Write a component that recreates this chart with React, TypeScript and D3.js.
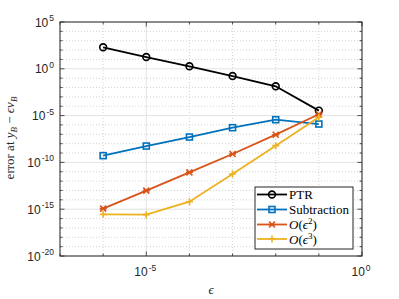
import React from "react";
import * as d3 from "d3";

// epsilon values (x) and errors (y)
const epsValues = [1e-6, 1e-5, 1e-4, 1e-3, 1e-2, 1e-1];
const ptrLog = [2.3, 1.26, 0.27, -0.77, -1.87, -4.47];
const subtractionLog = [-9.28, -8.25, -7.29, -6.29, -5.44, -5.9];
const order2Log = [-14.94, -13.02, -11.06, -9.1, -7.04, -4.86];
const order3Log = [-15.55, -15.58, -14.2, -11.24, -8.21, -5.18];

const xMajorExp = [-5, 0];
const yMajorExp = [-20, -15, -10, -5, 0, 5];
const xMinorExp = [-7, -6, -5, -4, -3, -2, -1, 0];
const yMinorExp = d3.range(-20, 6);

const series = [
  { name: "PTR", values: ptrLog, color: "#000000", marker: "circle" },
  { name: "Subtraction", values: subtractionLog, color: "#0072BD", marker: "square" },
  { name: "O2", values: order2Log, color: "#D95319", marker: "x" },
  { name: "O3", values: order3Log, color: "#EDB120", marker: "plus" },
];

const W = 399;
const H = 299;
const m = { left: 60, right: 37, top: 22, bottom: 43 };
const axisColor = "#262626";
const tickFont = "'Liberation Sans', Arial, Helvetica, sans-serif";
const texFont = "'Liberation Serif', 'Times New Roman', serif";

function Marker({ type, x, y, color }: { type: string; x: number; y: number; color: string }) {
  if (type === "circle")
    return <circle cx={x} cy={y} r={3.4} fill="none" stroke={color} strokeWidth={1.6} />;
  if (type === "square")
    return <rect x={x - 3} y={y - 3} width={6} height={6} fill="none" stroke={color} strokeWidth={1.6} />;
  if (type === "x")
    return (
      <path d={`M${x - 3},${y - 3}L${x + 3},${y + 3}M${x - 3},${y + 3}L${x + 3},${y - 3}M${x - 3.5},${y}L${x + 3.5},${y}`}
        stroke={color} strokeWidth={1.6} />
    );
  return <path d={`M${x - 3.5},${y}L${x + 3.5},${y}M${x},${y - 3.5}L${x},${y + 3.5}`} stroke={color} strokeWidth={1.6} />;
}

export default function App() {
  const x = d3.scaleLog().domain([1e-7, 1]).range([m.left, W - m.right]);
  const y = d3.scaleLog().domain([1e-20, 1e5]).range([H - m.bottom, m.top]);
  const [x0, x1] = x.range();
  const [y0, y1] = y.range();

  const line = d3
    .line<[number, number]>()
    .x((d) => x(d[0]))
    .y((d) => y(Math.pow(10, d[1])));

  const legendX = 255;
  const legendY = 187;
  const legendRows = [194.5, 209.5, 224.5, 239];

  return (
    <svg width={W} height={H} style={{ position: "absolute", left: 0, top: 0, background: "#fff" }}>
      {/* minor grid */}
      {xMinorExp.filter((e) => !xMajorExp.includes(e)).map((e) => (
        <line key={"gx" + e} x1={x(10 ** e)} x2={x(10 ** e)} y1={y1} y2={y0} stroke="#c8c8c8" strokeWidth={0.8} strokeDasharray="1,2" />
      ))}
      {yMinorExp.filter((e) => !yMajorExp.includes(e)).map((e) => (
        <line key={"gy" + e} x1={x0} x2={x1} y1={y(10 ** e)} y2={y(10 ** e)} stroke="#c8c8c8" strokeWidth={0.8} strokeDasharray="1,2" />
      ))}
      {/* major grid */}
      {xMajorExp.map((e) => (
        <line key={"Gx" + e} x1={x(10 ** e)} x2={x(10 ** e)} y1={y1} y2={y0} stroke="#e3e3e3" strokeWidth={1} />
      ))}
      {yMajorExp.map((e) => (
        <line key={"Gy" + e} x1={x0} x2={x1} y1={y(10 ** e)} y2={y(10 ** e)} stroke="#e3e3e3" strokeWidth={1} />
      ))}

      {/* ticks, inward on all four sides */}
      {xMinorExp.map((e) => {
        const len = xMajorExp.includes(e) ? 4.5 : 2.5;
        const px = x(10 ** e);
        return (
          <g key={"tx" + e} stroke={axisColor} strokeWidth={0.8}>
            <line x1={px} x2={px} y1={y0} y2={y0 - len} />
            <line x1={px} x2={px} y1={y1} y2={y1 + len} />
          </g>
        );
      })}
      {yMinorExp.map((e) => {
        const len = yMajorExp.includes(e) ? 4.5 : 2.5;
        const py = y(10 ** e);
        return (
          <g key={"ty" + e} stroke={axisColor} strokeWidth={0.8}>
            <line x1={x0} x2={x0 + len} y1={py} y2={py} />
            <line x1={x1} x2={x1 - len} y1={py} y2={py} />
          </g>
        );
      })}

      {/* box */}
      <rect x={x0} y={y1} width={x1 - x0} height={y0 - y1} fill="none" stroke={axisColor} strokeWidth={1} />

      {/* tick labels */}
      {yMajorExp.map((e) => (
        <text key={"ly" + e} x={54} y={y(10 ** e) + 4.5} textAnchor="end" fontFamily={tickFont} fontSize={12} fill={axisColor}>
          10<tspan dx={1} dy={-5.5} fontSize={8.5}>{e < 0 ? "-" + -e : e}</tspan>
        </text>
      ))}
      {xMajorExp.map((e) => (
        <text key={"lx" + e} x={x(10 ** e) - 1} y={276} textAnchor="middle" fontFamily={tickFont} fontSize={12} fill={axisColor}>
          10<tspan dx={1} dy={-5.5} fontSize={8.5}>{e < 0 ? "-" + -e : e}</tspan>
        </text>
      ))}

      {/* axis labels */}
      <text x={(x0 + x1) / 2} y={294} textAnchor="middle" fontFamily={texFont} fontStyle="italic" fontSize={13} fill={axisColor}>
        ϵ
      </text>
      <text transform={`translate(14,138) rotate(-90)`} textAnchor="middle" fontFamily={texFont} fontSize={13} fill={axisColor}>
        error at <tspan fontStyle="italic">y</tspan>
        <tspan fontStyle="italic" fontSize={9} dy={3}>B</tspan>
        <tspan dy={-3}> − </tspan>
        <tspan fontStyle="italic">ϵν</tspan>
        <tspan fontStyle="italic" fontSize={9} dy={3}>B</tspan>
      </text>

      {/* series */}
      {series.map((s) => {
        const pts: [number, number][] = epsValues.map((e, i) => [e, s.values[i]]);
        return (
          <g key={s.name}>
            <path d={line(pts) || ""} fill="none" stroke={s.color} strokeWidth={1.8} />
            {pts.map((p, i) => (
              <Marker key={i} type={s.marker} x={x(p[0])} y={y(Math.pow(10, p[1]))} color={s.color} />
            ))}
          </g>
        );
      })}

      {/* legend */}
      <rect x={legendX} y={legendY} width={98} height={62} fill="#fff" stroke={axisColor} strokeWidth={1} />
      {series.map((s, i) => (
        <g key={"lg" + s.name}>
          <line x1={legendX + 2} x2={legendX + 32} y1={legendRows[i]} y2={legendRows[i]} stroke={s.color} strokeWidth={1.8} />
          <Marker type={s.marker} x={legendX + 17} y={legendRows[i]} color={s.color} />
          <text x={legendX + 34} y={legendRows[i] + 4.5} fontFamily={texFont} fontSize={13} fill="#000">
            {s.name === "O2" || s.name === "O3" ? (
              <>
                <tspan fontStyle="italic">O</tspan>(<tspan fontStyle="italic">ϵ</tspan>
                <tspan dy={-5} fontSize={9}>{s.name === "O2" ? "2" : "3"}</tspan>
                <tspan dy={5}>)</tspan>
              </>
            ) : (
              s.name
            )}
          </text>
        </g>
      ))}
    </svg>
  );
}
